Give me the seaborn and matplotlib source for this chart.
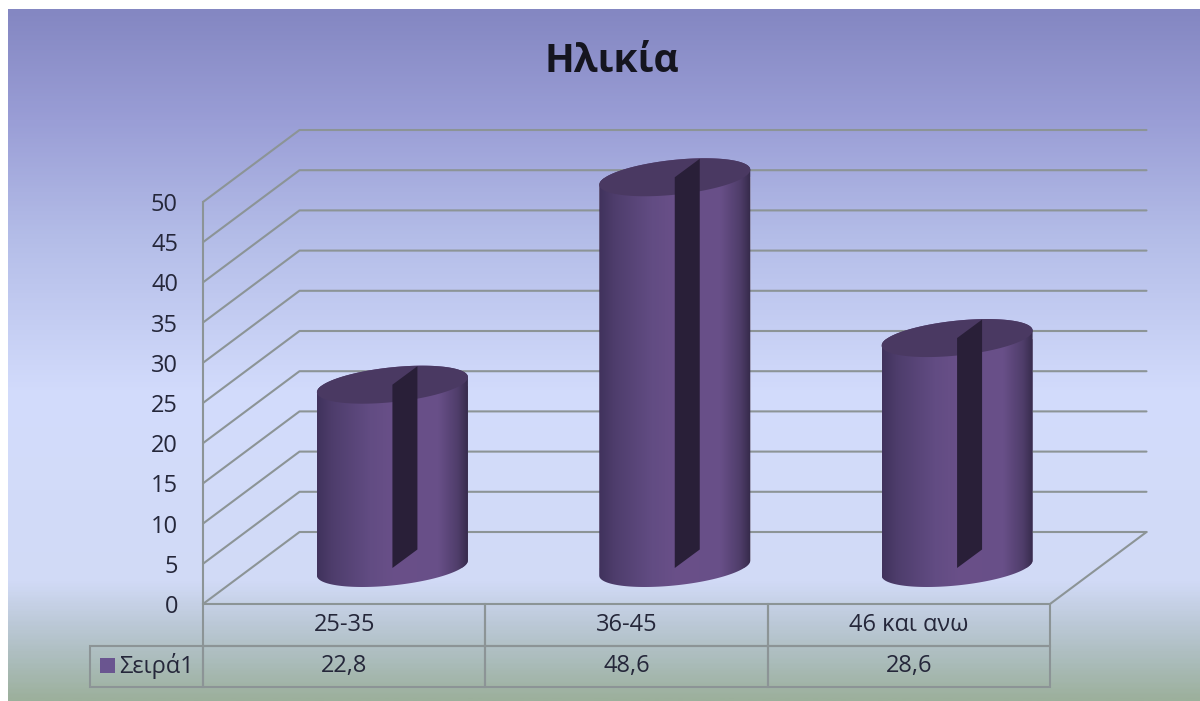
import numpy as np
import pandas as pd
import seaborn as sns
import matplotlib
matplotlib.use("Agg")
import matplotlib.pyplot as plt
from matplotlib.colors import LinearSegmentedColormap
from matplotlib.patches import Polygon, Rectangle

# Chart data
title = "Ηλικία"
categories = ["25-35", "36-45", "46 και ανω"]
values = [22.8, 48.6, 28.6]
series_name = "Σειρά1"
y_ticks = list(range(0, 55, 5))

W, H = 1200, 701
TEXT = "#25273a"
GRID = "#8c9496"

sns.set_theme(style="white")
plt.rcParams["font.family"] = ["Open Sans", "Noto Sans", "DejaVu Sans"]


def fig_rect(left, top, right, bottom):
    # pixel box (y from the top) to figure fractions
    return [left / W, (H - bottom) / H, (right - left) / W, (bottom - top) / H]


fig = plt.figure(figsize=(W / 100, H / 100), dpi=100, facecolor="white")

# Background gradient
bg = fig.add_axes(fig_rect(8, 9, 1200, 701), zorder=0)
bg_cmap = LinearSegmentedColormap.from_list("bg", [
    (0.00, "#8487c2"), (0.16, "#9a9ed6"), (0.33, "#b4bde8"), (0.56, "#d3dcfc"),
    (0.83, "#d1daf6"), (0.89, "#bcc9d8"), (0.95, "#a9bbb8"), (1.00, "#9cb09c"),
])
bg.imshow(np.linspace(0, 1, 400)[:, None], aspect="auto", cmap=bg_cmap)
bg.axis("off")

# Bars live in the middle plane of the 3D box
ax = fig.add_axes(fig_rect(251.25, 166, 1098.25, 568), zorder=1)
df = pd.DataFrame({"cat": categories, "val": values})
sns.barplot(data=df, x="cat", y="val", color="#5f4a80", width=0.535, ax=ax, saturation=1)
ax.set_xlim(-0.5, 2.5)
ax.set_ylim(0, 50)
ax.axis("off")

px_x = 847 / 3
px_y = 402 / 50
# half depth of the box in data units
dx = 48.25 / px_x
dy = 36 / px_y

# Walls and floor
wall = dict(color=GRID, lw=1.5, clip_on=False, zorder=1, solid_capstyle="round")
for v in y_ticks:
    ax.plot([-0.5 - dx, -0.5 + dx, 2.5 + dx], [v - dy, v + dy, v + dy], **wall)
ax.plot([2.5 - dx, 2.5 + dx], [-dy, dy], **wall)

# Cylinder shading on top of each seaborn bar
body_cmap = LinearSegmentedColormap.from_list("body", [
    (0.00, "#40325c"), (0.10, "#4e3d6c"), (0.35, "#624c83"), (0.52, "#6a5089"),
    (0.80, "#684f88"), (0.93, "#4f3d6a"), (1.00, "#352a4a"),
])
Bx, By = 30.0, 19.0  # ellipse shear
slot_x, slot_y = 25.0, 18.5
for bar in ax.patches:
    cx = bar.get_x() + bar.get_width() / 2
    h = bar.get_height()
    half_px = bar.get_width() / 2 * px_x
    Ax = np.sqrt(half_px ** 2 - Bx ** 2)
    t_r = np.arctan2(Bx, Ax)


    def ring(t, base):
        return np.c_[cx + (Ax * np.cos(t) + Bx * np.sin(t)) / px_x,
                     base + By * np.sin(t) / px_y]


    front_arc = np.linspace(t_r - np.pi, t_r, 80)
    back_arc = np.linspace(t_r, t_r + np.pi, 80)
    outline = np.r_[ring(front_arc, 0), ring(back_arc, h)]
    shape = Polygon(outline, closed=True, transform=ax.transData, fc="none", ec="none")
    ax.add_patch(shape)
    bar.set_clip_path(shape)

    im = ax.imshow(np.linspace(0, 1, 256)[None, :], aspect="auto", cmap=body_cmap,
                   extent=(cx - bar.get_width() / 2, cx + bar.get_width() / 2, -5, h + 5),
                   zorder=3)
    im.set_clip_box(fig.bbox)
    im.set_clip_path(shape)

    ax.add_patch(Polygon(ring(np.linspace(0, 2 * np.pi, 160), h), closed=True,
                         fc="#4a3962", ec="none", zorder=4, clip_on=False))
    # dark slot from the axis to the back of the cylinder
    ax.add_patch(Polygon([(cx, 0), (cx + slot_x / px_x, slot_y / px_y),
                          (cx + slot_x / px_x, h + slot_y / px_y), (cx, h)],
                         closed=True, fc="#291f38", ec="none", zorder=5, clip_on=False))
ax.set_xlim(-0.5, 2.5)
ax.set_ylim(0, 50)

# Front plane: value axis and data table
front = fig.add_axes(fig_rect(203, 202, 1050, 604), zorder=2)
front.patch.set_alpha(0)
front.set_xlim(0, 1)
front.set_ylim(0, 50)
front.set_yticks(y_ticks)
front.set_xticks([])
front.tick_params(axis="y", length=0, pad=18, labelsize=17, labelcolor=TEXT)
for name in ["top", "right", "bottom"]:
    front.spines[name].set_visible(False)
front.spines["left"].set_color(GRID)
front.spines["left"].set_linewidth(1.5)

label_w = 113
table_h = 83
table = front.table(
    cellText=[[f"{v:.1f}".replace(".", ",") for v in values]],
    colLabels=categories,
    rowLabels=[series_name],
    colWidths=[1 / 3] * 3,
    cellLoc="center",
    rowLoc="left",
    bbox=[0, -table_h / 402, 1, table_h / 402],
)
table.auto_set_font_size(False)
table.set_fontsize(17)
for (r, c), cell in table.get_celld().items():
    cell.set_facecolor("none")
    cell.set_edgecolor(GRID)
    cell.set_linewidth(1.5)
    cell.get_text().set_color(TEXT)
    if c == -1:
        cell.set_width(label_w / 847)
        cell.PAD = 29 / label_w

fig.add_artist(Rectangle((100 / W, (H - 673) / H), 15 / W, 15 / H, transform=fig.transFigure,
                         fc="#6a5590", ec="none"))

fig.text(612 / W, (H - 62) / H, title, ha="center", va="center", fontsize=28,
         fontweight="bold", color="#15151f")

fig.savefig("out.png", dpi=100)
